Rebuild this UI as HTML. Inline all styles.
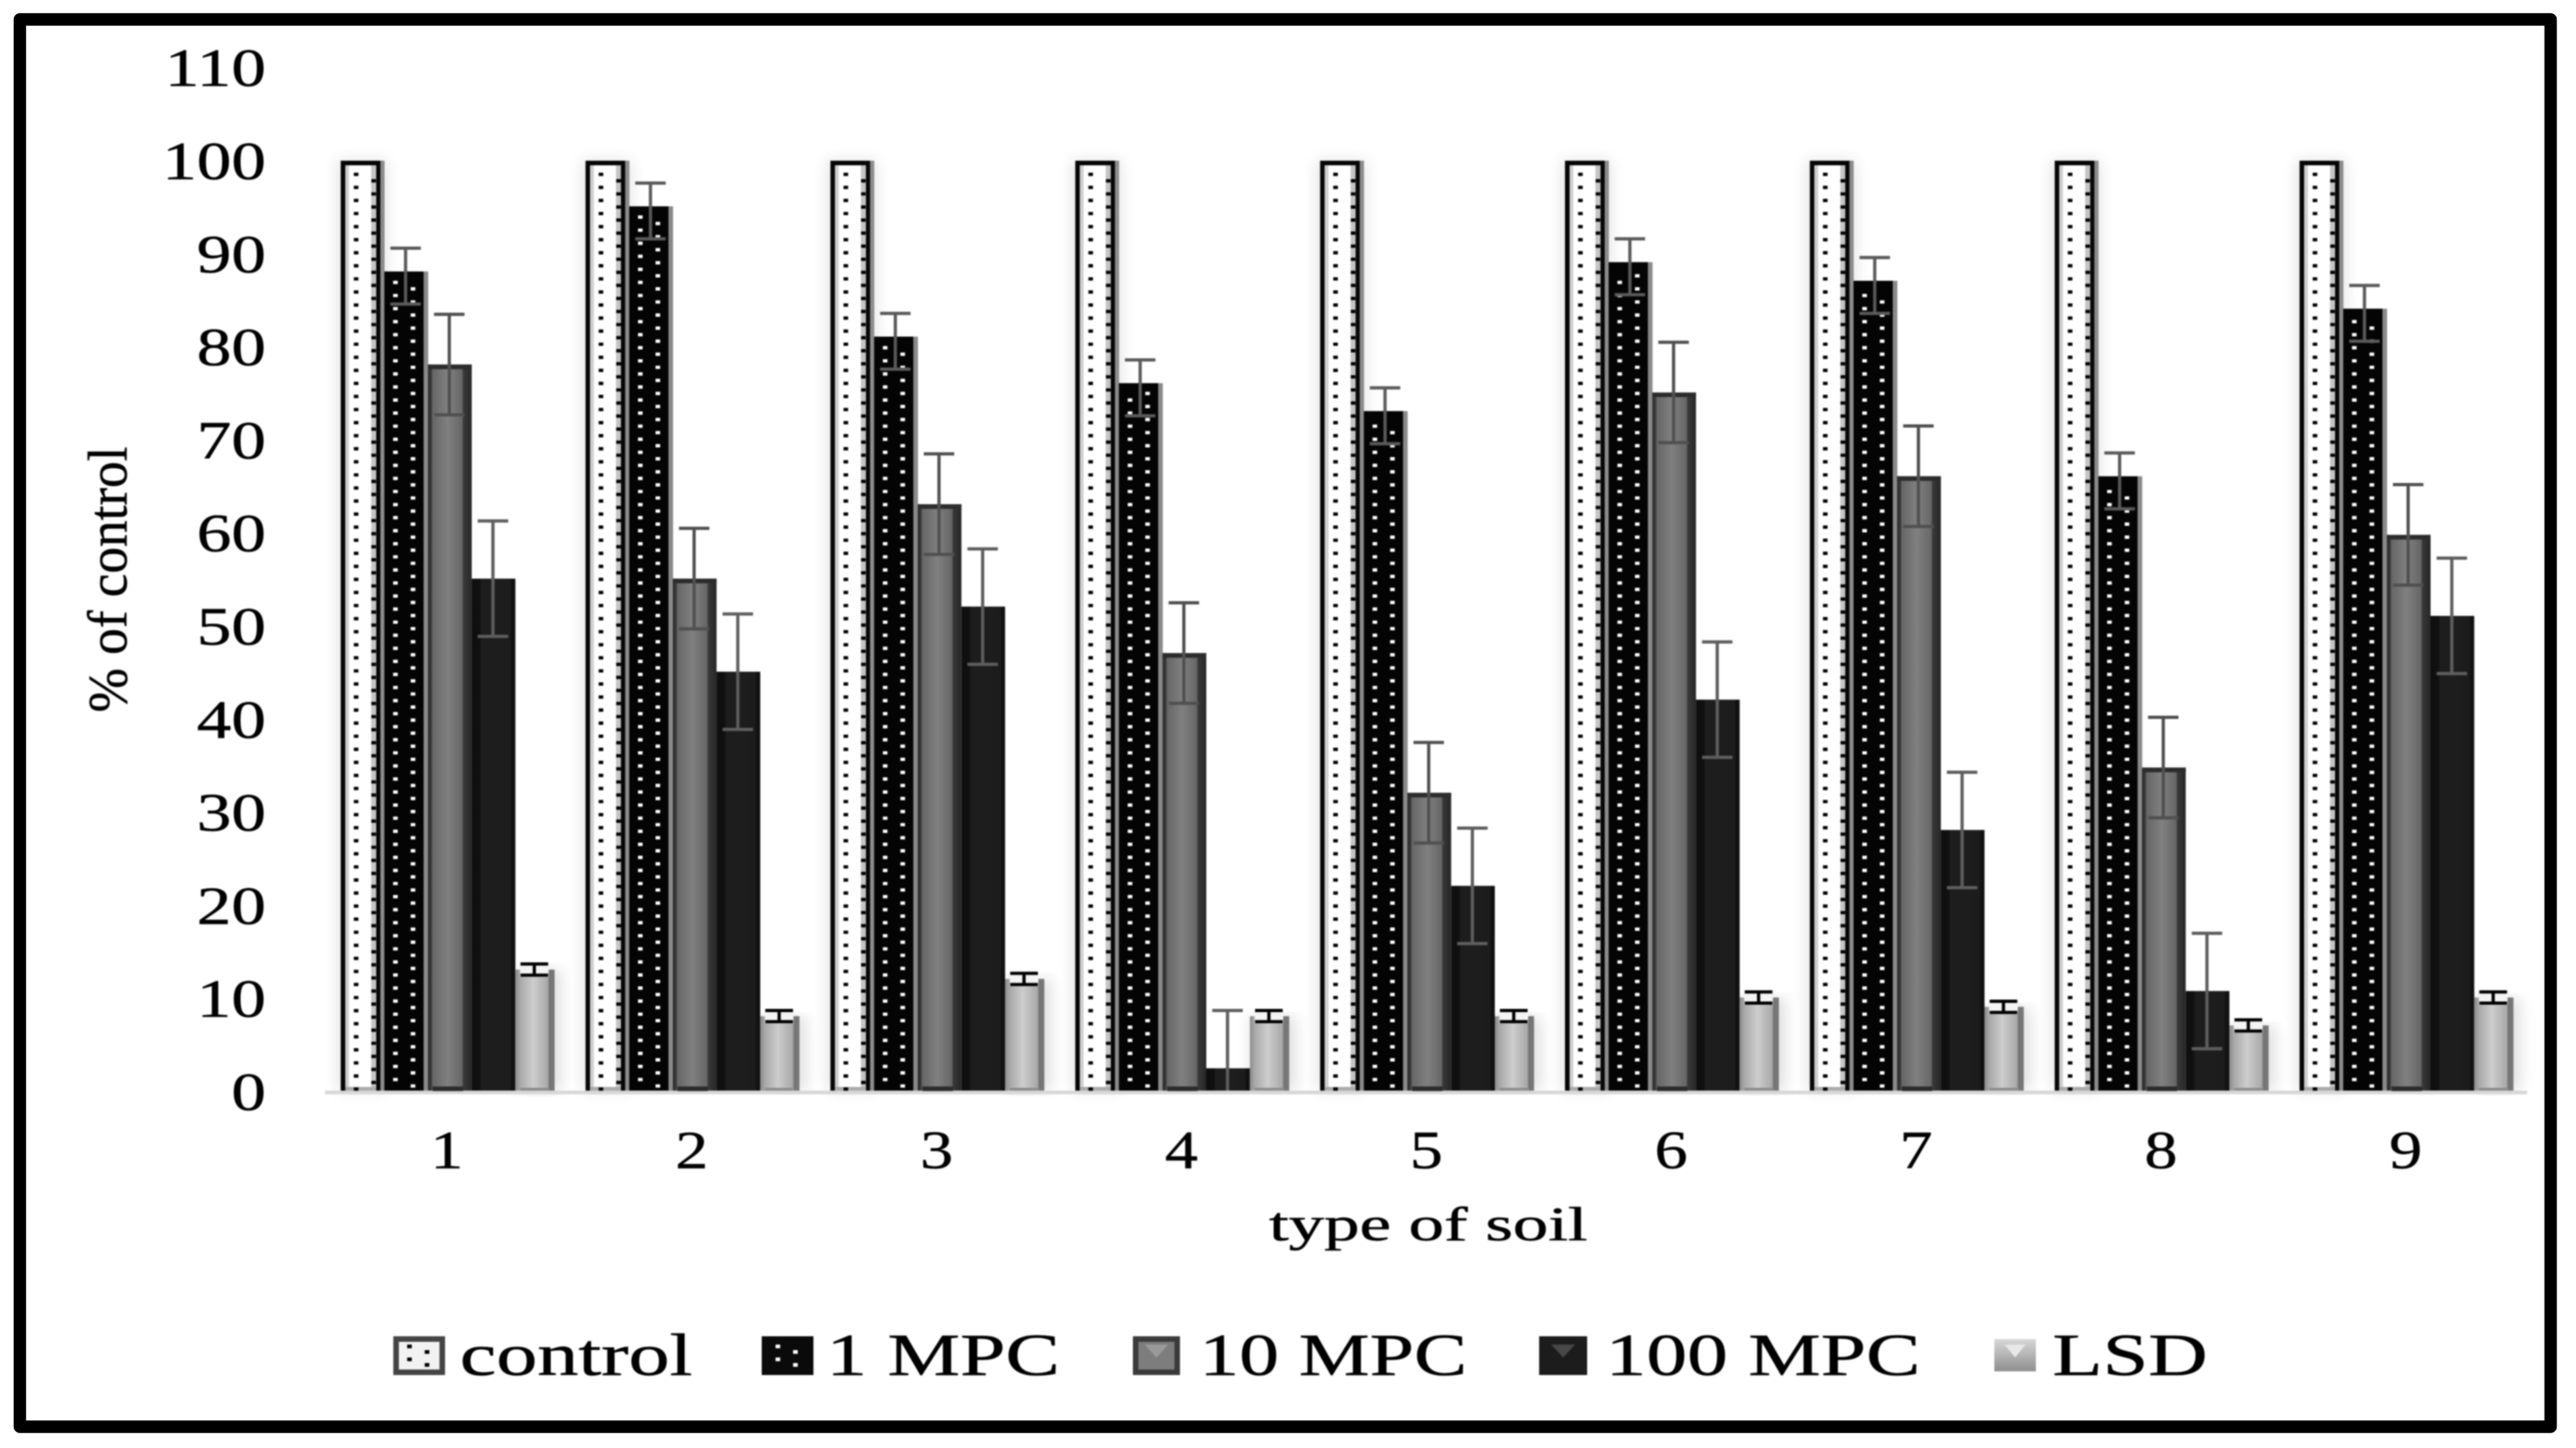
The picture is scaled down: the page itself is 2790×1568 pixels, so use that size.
<!DOCTYPE html>
<html lang="en">
<head>
<meta charset="utf-8">
<title>% of control by type of soil</title>
<style>
html,body{margin:0;padding:0;background:#fff;width:2790px;height:1568px;overflow:hidden}
svg{display:block;font-family:"Liberation Serif",serif;fill:#000}
svg text{stroke:#000;stroke-width:.5px}
#plot{filter:blur(0.9px)}
</style>
</head>
<body>
<svg id="chart" width="2790" height="1568" viewBox="0 0 2790 1568" xmlns="http://www.w3.org/2000/svg">
  <defs>
    <linearGradient id="g10" x1="0" x2="1" y1="0" y2="0">
      <stop offset="0" stop-color="#262626"/><stop offset=".085" stop-color="#404040"/><stop offset=".1" stop-color="#666"/><stop offset=".45" stop-color="#808080"/><stop offset=".78" stop-color="#666"/><stop offset=".81" stop-color="#383838"/><stop offset="1" stop-color="#262626"/>
    </linearGradient>
    <linearGradient id="g100" x1="0" x2="1" y1="0" y2="0">
      <stop offset="0" stop-color="#0e0e0e"/><stop offset=".18" stop-color="#101010"/><stop offset=".22" stop-color="#1d1d1d"/><stop offset=".88" stop-color="#1c1c1c"/><stop offset=".92" stop-color="#111"/><stop offset="1" stop-color="#111"/>
    </linearGradient>
    <linearGradient id="gLsd" x1="0" x2="1" y1="0" y2="0">
      <stop offset="0" stop-color="#8a8a8a"/><stop offset=".12" stop-color="#a8a8a8"/><stop offset=".45" stop-color="#cdcdcd"/><stop offset=".83" stop-color="#a8a8a8"/><stop offset=".86" stop-color="#747474"/><stop offset="1" stop-color="#787878"/>
    </linearGradient>
    <linearGradient id="gSwatch" x1="0" x2="0" y1="0" y2="1">
      <stop offset="0" stop-color="#d8d8d8"/><stop offset="1" stop-color="#8e8e8e"/>
    </linearGradient>
    <filter id="halo" x="-40%" y="-5%" width="180%" height="110%"><feGaussianBlur stdDeviation="8"/></filter>
  </defs>
  <rect x="0" y="0" width="2790" height="1568" fill="#fff"/>
  <g id="plot"></g>
  <rect x="21.5" y="21" width="2741" height="1524" fill="none" stroke="#000" stroke-width="13.5" stroke-linejoin="round"/>
</svg>
<script>
const categories = ['1', '2', '3', '4', '5', '6', '7', '8', '9'];
const seriesNames = ['control', '1 MPC', '10 MPC', '100 MPC', 'LSD'];
const controlValues = [100, 100, 100, 100, 100, 100, 100, 100, 100];
const mpc1Values = [88, 95, 81, 76, 73, 89, 87, 66, 84];
const mpc10Values = [78, 55, 63, 47, 32, 75, 66, 34.7, 59.7];
const mpc100Values = [55, 45, 52, 2.4, 22, 42, 28, 10.7, 51];
const lsdValues = [13, 8, 12, 8, 8, 10, 9, 7, 10];
const mpc1Errors = [3, 3, 3, 3, 3, 3, 3, 3, 3];
const mpc10Errors = [5.4, 5.4, 5.4, 5.4, 5.4, 5.4, 5.4, 5.4, 5.4];
const mpc100Errors = [6.2, 6.2, 6.2, 6.2, 6.2, 6.2, 6.2, 6.2, 6.2];
const lsdErrors = [0.6, 0.6, 0.6, 0.6, 0.6, 0.6, 0.6, 0.6, 0.6];
const yTicks = [0, 10, 20, 30, 40, 50, 60, 70, 80, 90, 100, 110];

const NS = 'http://www.w3.org/2000/svg';
const plot = document.getElementById('plot');
const Y0 = 1181, PX_PER_UNIT = 10.08;
const GROUP_LEFT = 369, GROUP_STEP = 265.2, SLOT = 47.3;
const yScale = v => Y0 - v * PX_PER_UNIT;
const xGroup = i => GROUP_LEFT + i * GROUP_STEP;
const xBar = (i, s) => xGroup(i) + s * SLOT;
const xCenter = i => xGroup(i) + 115;

function make(tag, attrs, parent) {
  const n = document.createElementNS(NS, tag);
  for (const k in attrs) n.setAttribute(k, attrs[k]);
  (parent || plot).appendChild(n);
  return n;
}
function wideText(str, x, y, size, sx, anchor) {
  const t = make('text', {transform: `translate(${x},${y}) scale(${sx},1)`, 'font-size': size, 'text-anchor': anchor, fill: '#000'});
  t.textContent = str;
  return t;
}
function dotsPath(cx, top, startY) {
  let d = '';
  for (let y = startY; y > top + 10; y -= 14.15) d += `M${cx - 2.5} ${y - 1.8}h5v3.6h-5z`;
  return d;
}

// soft halos around the tall bars and the low LSD bar
categories.forEach((c, i) => {
  const h = make('rect', {x: xGroup(i) - 4, y: yScale(controlValues[i]), width: 54, height: Y0 - yScale(controlValues[i]), fill: '#000', opacity: .1, filter: 'url(#halo)'});
  
  
  const h2 = make('rect', {x: xBar(i, 4), y: yScale(lsdValues[i]), width: 50, height: Y0 - yScale(lsdValues[i]), fill: '#000', opacity: .12, filter: 'url(#halo)'});
  
  
});

// axis line
const axisLine = make('rect', {x: 352, y: Y0, width: 2385, height: 4, fill: '#d8d8d8'});



// y ticks
yTicks.forEach(v => {
  const t = wideText(String(v), 288, yScale(v) + 21, 58, 1.29, 'end');
  
  
});

// x ticks
categories.forEach((c, i) => {
  const t = wideText(c, xCenter(i), 1265, 58, 1.23, 'middle');
  
  
});

// error bars (shift moves the whisker centre relative to the bar top)
function drawErr(i, s, val, err, color, w, half, shift) {
  const cx = xBar(i, s) + (s === 4 ? 20.5 : 23);
  const mid = val + shift;
  const low = mid - err;
  let d = `M${cx - half} ${yScale(mid + err)}H${cx + half}M${cx} ${yScale(mid + err)}V${yScale(Math.max(low, 0))}`;
  if (low > 0) d += `M${cx - half} ${yScale(low)}H${cx + half}`;
  const p = make('path', {d: d, fill: 'none', stroke: color, 'stroke-width': w});
  
  
}

categories.forEach((c, i) => {
  // control
  const g = xBar(i, 0);
  const top0 = yScale(controlValues[i]) + 1;
  const edge0 = make('rect', {x: g + 43, y: top0, width: 4.5, height: Y0 - top0, fill: '#8c8c8c'});
  
  
  const b0 = make('rect', {x: g, y: top0, width: 43, height: Y0 - top0, fill: '#060606'});
  
  
  const in0 = make('rect', {x: g + 5, y: top0 + 5, width: 33.3, height: Y0 - top0 - 5, fill: '#fff'});
  
  
  const sh0 = make('rect', {x: g + 5, y: top0 + 5, width: 4, height: Y0 - top0 - 5, fill: '#cfcfcf'});
  
  
  const sh1 = make('rect', {x: g + 33, y: top0 + 5, width: 5.3, height: Y0 - top0 - 5, fill: '#c4c4c4'});
  
  
  const st0 = make('rect', {x: g + 5, y: Y0 - 4, width: 33.3, height: 4, fill: '#aaa'});
  
  
  const d0 = make('path', {d: dotsPath(g + 16.7, top0, Y0 - 1.7) + dotsPath(g + 35.7, top0, Y0 - 8.8), fill: '#000'});
  
  

  // 1 MPC
  const x1 = xBar(i, 1);
  const top1 = yScale(mpc1Values[i]);
  const edge1 = make('rect', {x: x1 + 42, y: top1, width: 5.5, height: Y0 - top1, fill: '#8a8a8a'});
  
  
  const b1 = make('rect', {x: x1, y: top1, width: 42.5, height: Y0 - top1, fill: '#040404'});
  
  
  const d1 = make('path', {d: dotsPath(x1 + 12, top1, Y0 - 12) + dotsPath(x1 + 31, top1, Y0 - 5), fill: '#fff'});
  
  

  // 10 MPC
  const x2 = xBar(i, 2);
  const top2 = yScale(mpc10Values[i]);
  const b2 = make('rect', {x: x2, y: top2, width: 47.3, height: Y0 - top2, fill: 'url(#g10)'});
  
  
  const cap2 = make('path', {d: `M${x2} ${top2 + 2.5}H${x2 + 47.3}M${x2 + 5} ${Y0 - 2}H${x2 + 38}`, stroke: '#2c2c2c', 'stroke-width': 5, fill: 'none'});
  
  

  // 100 MPC
  const x3 = xBar(i, 3);
  const top3 = yScale(mpc100Values[i]);
  const b3 = make('rect', {x: x3, y: top3, width: 47.3, height: Y0 - top3, fill: 'url(#g100)'});
  
  

  // LSD
  const x4 = xBar(i, 4);
  const top4 = yScale(lsdValues[i]);
  const b4 = make('rect', {x: x4, y: top4, width: 42.5, height: Y0 - top4, fill: 'url(#gLsd)'});
  
  
  const foot4 = make('rect', {x: x4 + 5, y: Y0 - 3, width: 32, height: 3, fill: '#8c8c8c'});
  
  
  const glow = make('rect', {x: x4 + 5, y: yScale(lsdValues[i] + lsdErrors[i]), width: 31, height: PX_PER_UNIT * 2 * lsdErrors[i] + 2, fill: '#f4f4f4'});
  
  

  drawErr(i, 1, mpc1Values[i], mpc1Errors[i], '#5a5a5a', 3.5, 16.5, -0.5);
  drawErr(i, 2, mpc10Values[i], mpc10Errors[i], '#505050', 3.5, 16.5, 0);
  drawErr(i, 3, mpc100Values[i], mpc100Errors[i], '#5e5e5e', 3.5, 16.5, 0);
  drawErr(i, 4, lsdValues[i], lsdErrors[i], '#000', 3.5, 15, 0);
});

// axis titles
const xTitle = make('text', {x: 1547, y: 1343, 'font-size': 52, 'text-anchor': 'middle', textLength: 345, lengthAdjust: 'spacingAndGlyphs', fill: '#000'});
xTitle.textContent = 'type of soil';



const yTitle = make('text', {transform: 'translate(137,627.5) rotate(-90)', 'font-size': 60, 'text-anchor': 'middle', textLength: 288, lengthAdjust: 'spacingAndGlyphs', fill: '#000'});
yTitle.textContent = '% of control';



// legend
const legendSwatchX = [426, 825, 1227, 1667, 2160];
const legendSwatchW = [56, 56, 51, 52, 45];
const legendTextX = [498, 895, 1299, 1739, 2223];
const legendTextW = [252, 253, 290, 341, 168];
seriesNames.forEach((name, s) => {
  const sw = make('rect', {x: legendSwatchX[s] + (s === 0 || s === 2 ? 3 : 0), y: s === 4 ? 1450 : 1450 - (s === 0 || s === 2 ? 0 : 3), width: legendSwatchW[s] - (s === 0 || s === 2 ? 6 : 0), height: s === 4 ? 35 : (s === 0 || s === 2 ? 36 : 42)});
  
  
  if (s === 0) { sw.setAttribute('fill', '#f2f2f2'); sw.setAttribute('stroke', '#444'); sw.setAttribute('stroke-width', 6); }
  if (s === 1) sw.setAttribute('fill', '#0a0a0a');
  if (s === 2) { sw.setAttribute('fill', '#7d7d7d'); sw.setAttribute('stroke', '#3a3a3a'); sw.setAttribute('stroke-width', 6); }
  if (s === 3) sw.setAttribute('fill', '#1c1c1c');
  if (s === 4) sw.setAttribute('fill', 'url(#gSwatch)');
  const sx = legendSwatchX[s];
  if (s < 2) {
    const dots = make('path', {d: `M${sx + 15} 1456h5v4h-5zM${sx + 34} 1462h5v4h-5zM${sx + 15} 1470h5v4h-5zM${sx + 34} 1476h5v4h-5z`, fill: s === 0 ? '#000' : '#fff'});
    
    
  }
  if (s >= 2) {
    const w = legendSwatchW[s];
    const glint = make('path', {d: `M${sx + w * 0.25} 1456H${sx + w * 0.75}L${sx + w * 0.5} 1470z`, fill: s === 2 ? '#9a9a9a' : (s === 3 ? '#484848' : '#e8e8e8')});
    
    
  }
  const t = make('text', {x: legendTextX[s], y: 1489, 'font-size': 65, textLength: legendTextW[s], lengthAdjust: 'spacingAndGlyphs', fill: '#000'});
  t.textContent = name;
  
  
});
</script>
</body>
</html>
